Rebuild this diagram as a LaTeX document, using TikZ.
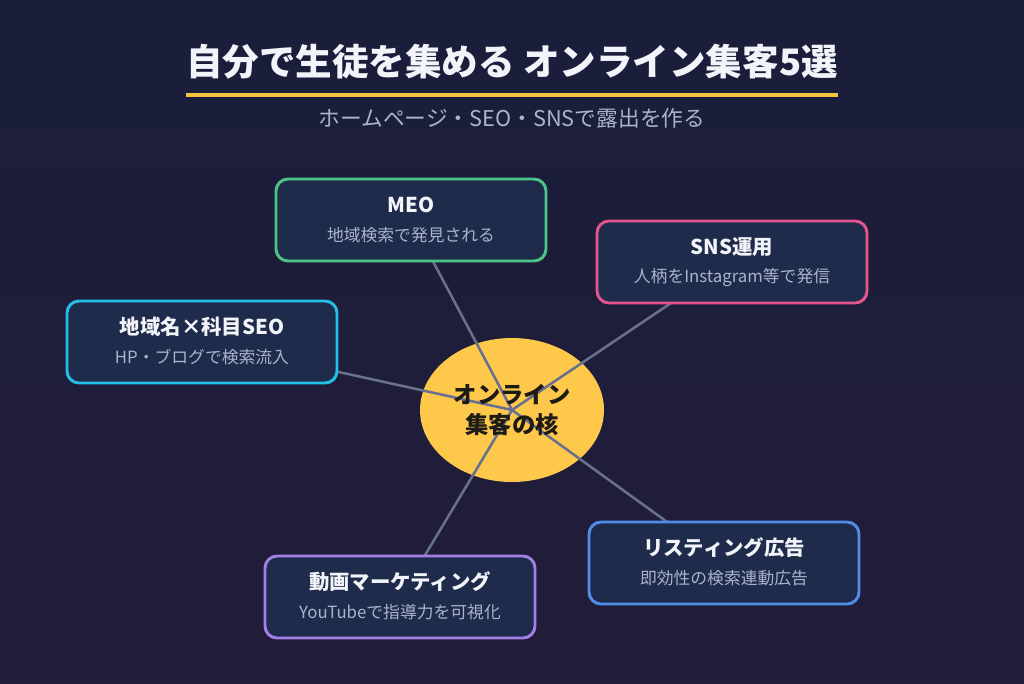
\documentclass[tikz,border=0pt]{standalone}
\usepackage{fontspec}
\setmainfont{Noto Sans CJK JP}
\usetikzlibrary{shapes.geometric}
\definecolor{bgtop}{HTML}{1A1E3A}
\definecolor{bgbot}{HTML}{221C3A}
\definecolor{boxfill}{HTML}{1F2B4A}
\definecolor{titlec}{HTML}{F2F4FA}
\definecolor{subc}{HTML}{A9B3CF}
\definecolor{goldc}{HTML}{F6C443}
\definecolor{corec}{HTML}{FEC84A}
\definecolor{linec}{HTML}{687090}
\definecolor{greenc}{HTML}{4CC486}
\definecolor{pinkc}{HTML}{E2558E}
\definecolor{cyanc}{HTML}{22C0E8}
\definecolor{bluec}{HTML}{4F8DE8}
\definecolor{purplec}{HTML}{A47FE6}
\definecolor{darktext}{HTML}{1E1A14}
\tikzset{
  card/.style={draw=#1, line width=2.2pt, fill=boxfill, rounded corners=9pt,
    minimum width=202.5pt, minimum height=61.5pt, inner sep=0pt},
  link/.style={draw=linec, line width=1.9pt},
  ctitle/.style={font=\bfseries\fontsize{15.3}{18}\selectfont, text=titlec},
  csub/.style={font=\fontsize{12.6}{15}\selectfont, text=subc}
}
\begin{document}
\begin{tikzpicture}[x=0.75pt,y=-0.75pt]
\useasboundingbox (0,0) rectangle (1024,683);
\shade[top color=bgtop, bottom color=bgbot] (0,0) rectangle (1024,683);
% title
\node[font=\bfseries\fontsize{27.4}{32}\selectfont, text=titlec] (title) at (512,62) {自分で生徒を集める オンライン集客5選};
\coordinate (ulA) at (186,95);
\coordinate (ulB) at (838,95);
\draw[goldc, line width=2.4pt] (ulA) -- (ulB);
\node[font=\fontsize{16.3}{19}\selectfont, text=subc] (subtitle) at (512,118) {ホームページ・SEO・SNSで露出を作る};
% core
\node[ellipse, fill=corec, minimum width=138pt, minimum height=108pt, inner sep=0pt] (core) at (512,410) {};
% card anchors (centres)
\coordinate (pmeo) at (411,220);
\coordinate (psns) at (732,262);
\coordinate (pseo) at (202,342);
\coordinate (plist) at (724,563);
\coordinate (pvid) at (400,597);
% connectors
\draw[link] (pmeo) -- (core.center);
\draw[link] (psns) -- (core.center);
\draw[link] (pseo) -- (core.center);
\draw[link] (plist) -- (core.center);
\draw[link] (pvid) -- (core.center);
\node[align=center, font=\bfseries\fontsize{17.5}{22}\selectfont, text=darktext] (coretext) at (512,410) {オンライン\\集客の核};
% cards
\node[card=greenc] (meo) at (pmeo) {};
\node[ctitle] (meoT) at (411,205) {MEO};
\node[csub] (meoS) at (411,235) {地域検索で発見される};
\node[card=pinkc] (sns) at (psns) {};
\node[ctitle] (snsT) at (732,247) {SNS運用};
\node[csub] (snsS) at (732,277) {人柄をInstagram等で発信};
\node[card=cyanc] (seo) at (pseo) {};
\node[ctitle] (seoT) at (202,327) {地域名×科目SEO};
\node[csub] (seoS) at (202,357) {HP・ブログで検索流入};
\node[card=bluec] (list) at (plist) {};
\node[ctitle] (listT) at (724,548) {リスティング広告};
\node[csub] (listS) at (724,578) {即効性の検索連動広告};
\node[card=purplec] (vid) at (pvid) {};
\node[ctitle] (vidT) at (400,582) {動画マーケティング};
\node[csub] (vidS) at (400,612) {YouTubeで指導力を可視化};
\end{tikzpicture}
\end{document}
